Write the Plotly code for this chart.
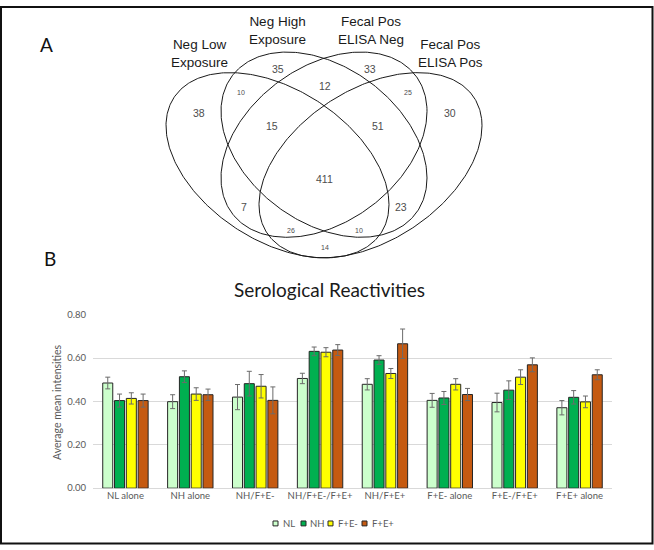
import numpy as np
import plotly.graph_objects as go

# ---------------- data ----------------
categories = ["NL alone", "NH alone", "NH/F+E-", "NH/F+E-/F+E+", "NH/F+E+",
              "F+E- alone", "F+E-/F+E+", "F+E+ alone"]
series_names = ["NL", "NH", "F+E-", "F+E+"]

nl_mean = [0.485, 0.399, 0.420, 0.506, 0.479, 0.405, 0.395, 0.371]
nh_mean = [0.404, 0.514, 0.482, 0.631, 0.591, 0.416, 0.452, 0.419]
fem_mean = [0.414, 0.434, 0.470, 0.627, 0.529, 0.479, 0.512, 0.398]
fep_mean = [0.404, 0.431, 0.405, 0.637, 0.666, 0.432, 0.569, 0.523]

nl_err = [0.027, 0.032, 0.058, 0.024, 0.026, 0.032, 0.043, 0.033]
nh_err = [0.030, 0.027, 0.057, 0.020, 0.020, 0.030, 0.043, 0.031]
fem_err = [0.026, 0.029, 0.054, 0.021, 0.023, 0.026, 0.034, 0.027]
fep_err = [0.030, 0.026, 0.062, 0.025, 0.068, 0.028, 0.032, 0.023]

y_ticks = [0.0, 0.2, 0.4, 0.6, 0.8]

venn_set_labels = ["Neg Low<br>Exposure", "Neg High<br>Exposure",
                   "Fecal Pos<br>ELISA Neg", "Fecal Pos<br>ELISA Pos"]
venn_regions = ["NL", "NH", "FN", "FP", "NL&NH", "NH&FN", "FN&FP",
                "NL&NH&FN", "NH&FN&FP", "ALL", "NL&FN", "NH&FP",
                "NL&FN&FP", "NL&NH&FP", "NL&FP"]
venn_counts = [38, 35, 33, 30, 10, 12, 25, 15, 51, 411, 7, 23, 26, 10, 14]

# ---------------- layout constants (pixels) ----------------
W, H = 654, 550
def px(x):
    return x / W
def py(y):
    return 1 - y / H

colors = ["#CCFFCC", "#00B050", "#FFFF00", "#C55A11"]
means = [nl_mean, nh_mean, fem_mean, fep_mean]
errs = [nl_err, nh_err, fem_err, fep_err]

# Venn geometry: center x, center y, half-width, half-height, covariance term
ellipses = [
    (277.5, 162.5, 111.5, 94.5, 4489),
    (324.0, 141.5, 103.0, 94.5, 3500),
    (324.0, 141.5, 103.0, 94.5, -3500),
    (370.5, 162.5, 111.5, 94.5, -4489),
]
set_label_pos = [(199, 48), (277, 25), (371, 25), (450, 48)]
region_pos = [(199, 109), (278, 64), (370, 64), (450, 109), (241, 88), (325, 82),
              (408, 88), (272, 122), (378, 122), (324, 177), (244, 205),
              (401, 205), (291, 229), (359, 229), (325, 246)]
small_regions = {"NL&NH", "FN&FP", "NL&FN&FP", "NL&NH&FP", "NL&FP"}

fig = go.Figure()

for name, col, m, e in zip(series_names, colors, means, errs):
    fig.add_trace(go.Bar(
        x=categories, y=m, name=name,
        marker=dict(color=col, line=dict(color="#262626", width=1)),
        error_y=dict(type="data", array=e, visible=True, color="#6b6b6b",
                     thickness=1, width=2.5),
        showlegend=False, xaxis="x", yaxis="y",
    ))

t = np.linspace(0, 2 * np.pi, 361)
for cx, cy, hx, hy, k in ellipses:
    l21 = k / hx
    l22 = np.sqrt(hy ** 2 - l21 ** 2)
    ex = cx + hx * np.cos(t)
    ey = cy + l21 * np.cos(t) + l22 * np.sin(t)
    fig.add_trace(go.Scatter(x=ex, y=ey, mode="lines",
                             line=dict(color="#1a1a1a", width=1),
                             showlegend=False, hoverinfo="skip",
                             xaxis="x2", yaxis="y2"))

ann = []
venn_font = "Liberation Sans, Arial, sans-serif"
for lab, (x, y) in zip(venn_set_labels, set_label_pos):
    ann.append(dict(x=x, y=y, xref="x2", yref="y2", text=lab, showarrow=False,
                    font=dict(family=venn_font, size=13.5, color="#1a1a1a"),
                    xanchor="center", yanchor="middle", align="center"))
for reg, cnt, (x, y) in zip(venn_regions, venn_counts, region_pos):
    size = 7 if reg in small_regions else 10.5
    ann.append(dict(x=x, y=y, xref="x2", yref="y2", text=str(cnt), showarrow=False,
                    font=dict(family=venn_font, size=size, color="#4d4d4d"),
                    xanchor="center", yanchor="middle"))

chart_font = "Lato, Open Sans, sans-serif"
ann.append(dict(x=px(46), y=py(39), xref="paper", yref="paper", text="A",
                showarrow=False, font=dict(family=chart_font, size=19, color="#111"),
                xanchor="center", yanchor="middle"))
ann.append(dict(x=px(50), y=py(258), xref="paper", yref="paper", text="B",
                showarrow=False, font=dict(family=chart_font, size=19, color="#111"),
                xanchor="center", yanchor="middle"))
ann.append(dict(x=px(329), y=py(289), xref="paper", yref="paper",
                text="Serological Reactivities", showarrow=False,
                font=dict(family=chart_font, size=19, color="#1a1a1a"),
                xanchor="center", yanchor="middle"))
ann.append(dict(x=px(57), y=py(404), xref="paper", yref="paper",
                text="Average mean intensities", showarrow=False, textangle=-90,
                font=dict(family=chart_font, size=10.5, color="#595959"),
                xanchor="center", yanchor="middle"))

# manual compact legend
shapes = []
leg_box_x = [275.5, 303.5, 330.5, 364.5]
leg_text_x = [281, 308, 336, 370]
leg_y = 528
for name, col, bx, tx in zip(series_names, colors, leg_box_x, leg_text_x):
    shapes.append(dict(type="rect", xref="paper", yref="paper",
                       x0=px(bx - 2.5), x1=px(bx + 2.5), y0=py(leg_y + 2.5), y1=py(leg_y - 2.5),
                       fillcolor=col, line=dict(color="#262626", width=1)))
    ann.append(dict(x=px(tx), y=py(leg_y), xref="paper", yref="paper", text=name,
                    showarrow=False, xanchor="left", yanchor="middle",
                    font=dict(family=chart_font, size=9.5, color="#595959")))

# outer frame
shapes.append(dict(type="rect", xref="paper", yref="paper",
                   x0=px(1), x1=px(652.5), y0=py(548.5), y1=py(1),
                   line=dict(color="#111", width=2), fillcolor="rgba(0,0,0,0)"))

fig.update_layout(
    width=W, height=H, margin=dict(l=0, r=0, t=0, b=0),
    paper_bgcolor="white", plot_bgcolor="white",
    barmode="group", bargap=0.273, bargroupgap=0.15,
    showlegend=False, hovermode=False,
    xaxis=dict(domain=[px(93), px(612)], anchor="y", showgrid=False, showline=False,
               ticks="", tickfont=dict(family=chart_font, size=9.5, color="#595959"),
               fixedrange=True),
    yaxis=dict(domain=[py(492), py(315)], anchor="x", range=[0, 0.8001],
               tickvals=y_ticks, tickformat=".2f", showgrid=True, gridcolor="#D9D9D9",
               gridwidth=1, zeroline=True, zerolinecolor="#D9D9D9", zerolinewidth=1,
               showline=False, ticks="", ticklabelstandoff=6,
               tickfont=dict(family=chart_font, size=9.5, color="#595959")),
    xaxis2=dict(domain=[0, 1], anchor="y2", range=[0, W], visible=False),
    yaxis2=dict(domain=[py(280), 1], anchor="x2", range=[280, 0], visible=False),
    annotations=ann, shapes=shapes,
)

fig.write_html(
    "out.html",
    config={"displayModeBar": False},
    post_script="document.body.style.margin='0px';document.body.style.overflow='hidden';",
)
